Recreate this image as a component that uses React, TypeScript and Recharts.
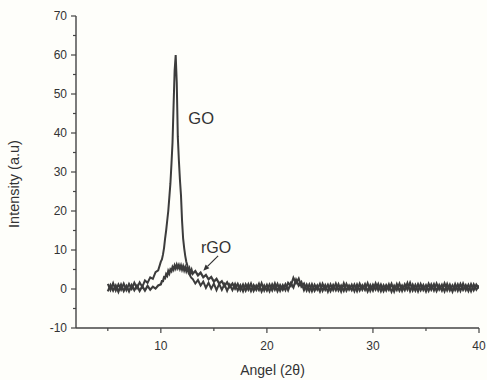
import React from 'react';
import { LineChart, Line, XAxis, YAxis, ReferenceDot, ReferenceLine, Label } from 'recharts';

// Diffraction angle (2θ)
const angles = [
  5, 5.25, 5.5, 5.75, 6, 6.25, 6.5, 6.75, 7, 7.25, 7.5, 7.75, 8, 8.25, 8.5, 8.75, 9, 9.25, 9.5, 9.75,
  10, 10.1, 10.2, 10.3, 10.4, 10.5, 10.6, 10.7, 10.8, 10.9, 11, 11.1, 11.2, 11.3, 11.4, 11.5, 11.6, 11.7, 11.8, 11.9,
  12, 12.1, 12.2, 12.3, 12.4, 12.5, 12.6, 12.7, 12.8, 12.9,
  13, 13.25, 13.5, 13.75, 14, 14.25, 14.5, 14.75, 15, 15.25, 15.5, 15.75, 16, 16.25, 16.5, 16.75,
  17, 17.25, 17.5, 17.75, 18, 18.25, 18.5, 18.75, 19, 19.25, 19.5, 19.75, 20, 20.25, 20.5, 20.75,
  21, 21.25, 21.5, 21.75, 22, 22.25, 22.5, 22.75, 23, 23.25, 23.5, 23.75, 24, 24.25, 24.5, 24.75,
  25, 25.25, 25.5, 25.75, 26, 26.25, 26.5, 26.75, 27, 27.25, 27.5, 27.75, 28, 28.25, 28.5, 28.75,
  29, 29.25, 29.5, 29.75, 30, 30.25, 30.5, 30.75, 31, 31.25, 31.5, 31.75, 32, 32.25, 32.5, 32.75,
  33, 33.25, 33.5, 33.75, 34, 34.25, 34.5, 34.75, 35, 35.25, 35.5, 35.75, 36, 36.25, 36.5, 36.75,
  37, 37.25, 37.5, 37.75, 38, 38.25, 38.5, 38.75, 39, 39.25, 39.5, 39.75, 40,
];

// GO intensity (a.u)
const goIntensity = [
  1.3, -0.3, 1.5, -0.4, 1.2, -0.2, 1.4, -0.3, 1.3, 0.0, 1.6, 0.2, 1.7, 0.5, 2.2, 1.6, 3.0, 2.6, 4.3, 4.8,
  7.0, 7.6, 8.8, 10.5, 12.9, 15.0, 17.5, 20.0, 23.5, 27.0, 32.0, 37.5, 47.0, 56.0, 60.0, 53.0, 39.0, 33.0, 28.0, 24.0,
  17.5, 13.0, 10.5, 8.5, 7.0, 6.0, 4.8, 3.8, 3.2, 2.8,
  2.6, 1.4, 2.3, 0.9, 1.9, 0.3, 1.6, 0.1, 1.4, -0.3, 1.3, -0.2, 1.2, -0.5, 1.1, -0.3,
  1.3, -0.4, 1.0, -0.6, 1.2, -0.2, 1.4, -0.5, 0.9, -0.3, 1.5, -0.4, 1.1, -0.6, 1.2, -0.2,
  1.3, -0.5, 1.0, -0.3, 1.6, 0.8, 2.9, 1.5, 2.7, 0.6, 1.4, -0.4, 1.2, -0.6, 1.1, -0.2,
  1.3, -0.5, 1.0, -0.7, 1.2, -0.3, 1.4, -0.4, 0.9, -0.5, 1.3, -0.2, 1.1, -0.6, 1.2, -0.4,
  1.0, -0.3, 1.5, -0.5, 1.1, -0.2, 1.3, -0.6, 1.0, -0.4, 1.2, -0.7, 0.9, -0.3, 1.4, -0.5,
  1.2, -0.2, 1.6, -0.4, 1.1, -0.6, 1.3, -0.3, 1.0, -0.5, 1.2, -0.4, 1.4, -0.2, 1.1, -0.6,
  1.3, -0.4, 1.0, -0.3, 1.2, -0.5, 1.4, -0.3, 1.1, -0.6, 1.2, -0.2, 0.9,
];

// rGO intensity (a.u)
const rgoIntensity = [
  -0.6, 1.0, -0.4, 0.9, -0.7, 1.1, -0.5, 0.8, -0.6, 1.0, -0.3, 0.9, -0.5, 0.7, -0.4, 0.8, -0.2, 0.6, 0.1, 0.9,
  1.2, 2.0, 2.0, 3.0, 2.8, 3.8, 3.4, 4.6, 4.0, 5.0, 4.6, 5.6, 5.0, 6.0, 5.3, 6.2, 5.4, 6.1, 5.2, 6.0,
  5.0, 5.8, 4.8, 5.6, 4.6, 5.4, 4.4, 5.2, 4.1, 4.9,
  3.9, 4.6, 3.5, 4.2, 3.0, 3.6, 2.5, 3.1, 1.9, 2.6, 1.4, 2.0, 0.8, 1.7, 0.5, 1.4,
  0.1, 1.3, -0.3, 1.1, -0.4, 1.2, -0.5, 1.0, -0.2, 1.3, -0.6, 0.9, -0.4, 1.1, -0.3, 1.4,
  -0.5, 1.0, -0.2, 1.2, -0.3, 1.5, 0.4, 2.4, 0.9, 1.8, -0.3, 1.1, -0.5, 1.2, -0.4, 0.9,
  -0.6, 1.3, -0.2, 1.1, -0.5, 1.0, -0.3, 1.2, -0.6, 1.4, -0.4, 0.9, -0.3, 1.1, -0.5, 1.3,
  -0.2, 1.2, -0.6, 1.0, -0.4, 1.4, -0.3, 1.1, -0.5, 1.0, -0.2, 1.3, -0.6, 1.2, -0.4, 0.9,
  -0.3, 1.5, -0.5, 1.1, -0.4, 1.2, -0.3, 1.0, -0.6, 1.3, -0.2, 1.2, -0.5, 1.0, -0.4, 1.4,
  -0.3, 1.1, -0.6, 1.2, -0.4, 1.3, -0.2, 1.0, -0.5, 1.2, -0.3, 1.1, 0.2,
];

const xTicks = [5, 10, 15, 20, 25, 30, 35, 40];
const xMajorTicks = [10, 20, 30, 40];
const yTicks = [-10, -5, 0, 5, 10, 15, 20, 25, 30, 35, 40, 45, 50, 55, 60, 65, 70];
const yMajorTicks = [-10, 0, 10, 20, 30, 40, 50, 60, 70];

const goLabelPos = { x: 13.8, y: 43.7 };
const rgoLabelPos = { x: 15.2, y: 10.6 };
const rgoArrow = [{ x: 15.4, y: 8.5 }, { x: 14.0, y: 4.7 }];

const data = angles.map((a, i) => ({ angle: a, go: goIntensity[i], rgo: rgoIntensity[i] }));

const FONT = '"Liberation Sans", Arial, sans-serif';
const INK = '#333333';
const AXIS = '#444444';
const TRACE = '#3c3c3c';

const YTick = (props: any) => {
  const { x, y, payload } = props;
  const v = payload.value;
  const major = yMajorTicks.includes(v);
  return (
    <g>
      <line x1={x} x2={x - (major ? 5 : 3)} y1={y} y2={y} stroke={AXIS} strokeWidth={1.2} />
      {major && (
        <text x={x - 9} y={y + 4.2} textAnchor="end" fontSize={12} fontFamily={FONT} fill={INK}>
          {v}
        </text>
      )}
    </g>
  );
};

const XTick = (props: any) => {
  const { x, y, payload } = props;
  const v = payload.value;
  const major = xMajorTicks.includes(v);
  return (
    <g>
      <line x1={x} x2={x} y1={y} y2={y + (major ? 5 : 3)} stroke={AXIS} strokeWidth={1.2} />
      {major && (
        <text x={x} y={y + 22} textAnchor="middle" fontSize={12} fontFamily={FONT} fill={INK}>
          {v}
        </text>
      )}
    </g>
  );
};

const ArrowShape = (props: any) => {
  const { x1, y1, x2, y2 } = props;
  const ang = Math.atan2(y2 - y1, x2 - x1);
  const L = 6;
  const W = 2.6;
  const bx = x2 - L * Math.cos(ang);
  const by = y2 - L * Math.sin(ang);
  const p1 = `${bx + W * Math.sin(ang)},${by - W * Math.cos(ang)}`;
  const p2 = `${bx - W * Math.sin(ang)},${by + W * Math.cos(ang)}`;
  return (
    <g>
      <line x1={x1} y1={y1} x2={bx} y2={by} stroke={INK} strokeWidth={1.2} />
      <polygon points={`${x2},${y2} ${p1} ${p2}`} fill={INK} />
    </g>
  );
};

const YTitle = (props: any) => {
  const vb = props.viewBox;
  const cx = vb.x + 14;
  const cy = vb.y + vb.height / 2 + 12;
  return (
    <text
      x={cx}
      y={cy}
      transform={`rotate(-90 ${cx} ${cy})`}
      textAnchor="middle"
      dominantBaseline="central"
      fontSize={14.5}
      fontFamily={FONT}
      fill={INK}
    >
      Intensity (a.u)
    </text>
  );
};

export default function App() {
  return (
    <div style={{ position: 'absolute', left: 0, top: 0, width: 487, height: 380, background: '#fefefa' }}>
      <LineChart width={487} height={380} data={data} margin={{ top: 16, right: 8, bottom: 0, left: 0 }}>
        <XAxis
          dataKey="angle"
          type="number"
          domain={[2, 40]}
          ticks={xTicks}
          interval={0}
          height={52}
          tickSize={0}
          tickMargin={0}
          tickLine={false}
          tick={<XTick />}
          axisLine={{ stroke: AXIS, strokeWidth: 1.4 }}
          allowDataOverflow
        >
          <Label value="Angel (2θ)" position="insideBottom" offset={5} dx={-5} fontSize={14} fontFamily={FONT} fill={INK} />
        </XAxis>
        <YAxis
          type="number"
          domain={[-10, 70]}
          ticks={yTicks}
          interval={0}
          width={76}
          tickSize={0}
          tickMargin={0}
          tickLine={false}
          tick={<YTick />}
          axisLine={{ stroke: AXIS, strokeWidth: 1.4 }}
          allowDataOverflow
        >
          <Label content={<YTitle />} position="center" />
        </YAxis>
        <Line
          dataKey="go"
          type="linear"
          dot={false}
          stroke={TRACE}
          strokeWidth={2}
          isAnimationActive={false}
        />
        <Line
          dataKey="rgo"
          type="linear"
          dot={false}
          stroke={TRACE}
          strokeWidth={2.2}
          isAnimationActive={false}
        />
        <ReferenceLine segment={rgoArrow} shape={<ArrowShape />} ifOverflow="visible" />
        <ReferenceDot
          x={goLabelPos.x}
          y={goLabelPos.y}
          r={0}
          fill="none"
          stroke="none"
          label={{ value: 'GO', position: 'center', fontSize: 16.5, fontFamily: FONT, fill: INK }}
        />
        <ReferenceDot
          x={rgoLabelPos.x}
          y={rgoLabelPos.y}
          r={0}
          fill="none"
          stroke="none"
          label={{ value: 'rGO', position: 'center', fontSize: 16, fontFamily: FONT, fill: INK }}
        />
      </LineChart>
    </div>
  );
}
